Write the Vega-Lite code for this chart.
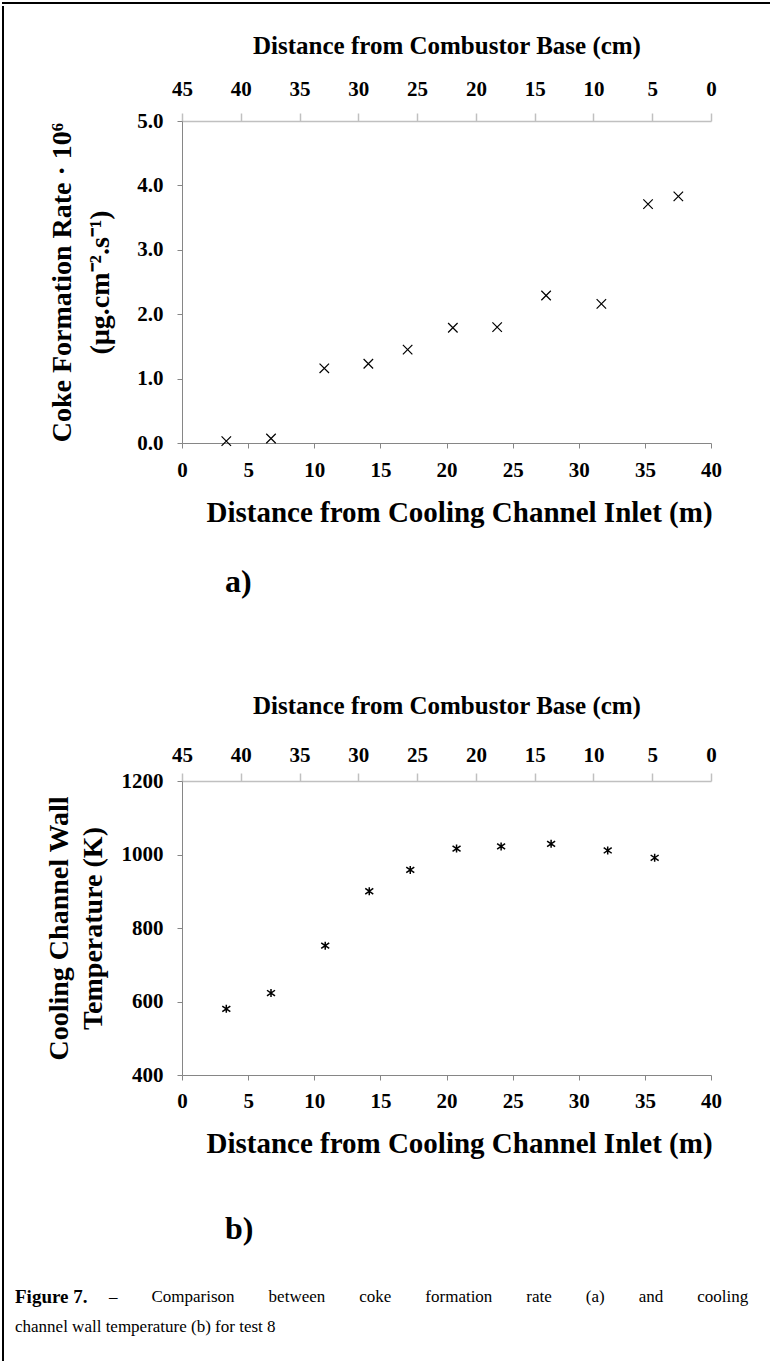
{
  "$schema": "https://vega.github.io/schema/vega-lite/v6.json",
  "background": "white",
  "padding": {"left": 2, "top": 2, "right": 0, "bottom": 0},
  "config": {
    "font": "Liberation Serif",
    "view": {"stroke": null},
    "axis": {"labelFont": "Liberation Serif", "titleFont": "Liberation Serif", "labelFontWeight": "bold", "titleFontWeight": "bold", "labelColor": "black", "titleColor": "black", "grid": false, "labelFlush": false, "labelOverlap": false},
    "title": {"font": "Liberation Serif", "color": "black", "fontWeight": "bold"},
    "text": {"font": "Liberation Serif", "color": "black"}
  },
  "datasets": {
    "coke": [
      {"m": 3.35, "rate": 0.03}, {"m": 6.73, "rate": 0.07}, {"m": 10.76, "rate": 1.16}, {"m": 14.09, "rate": 1.23},
      {"m": 17.06, "rate": 1.45}, {"m": 20.48, "rate": 1.79}, {"m": 23.83, "rate": 1.80}, {"m": 27.53, "rate": 2.29},
      {"m": 31.71, "rate": 2.16}, {"m": 35.24, "rate": 3.71}, {"m": 37.53, "rate": 3.83}
    ],
    "temp": [
      {"m": 3.35, "T": 580}, {"m": 6.73, "T": 623}, {"m": 10.83, "T": 752}, {"m": 14.16, "T": 900},
      {"m": 17.26, "T": 958}, {"m": 20.76, "T": 1016}, {"m": 24.13, "T": 1022}, {"m": 27.91, "T": 1029},
      {"m": 32.19, "T": 1011}, {"m": 35.74, "T": 991}
    ],
    "cmaxis": [{"cm": 45}, {"cm": 0}],
    "caption": [
      {"line": 1, "part": "head", "text": "Figure 7."},
      {"line": 1, "part": "body", "text": "–\u00a0\u00a0\u00a0\u00a0\u00a0\u00a0\u00a0\u00a0Comparison\u00a0\u00a0\u00a0\u00a0\u00a0\u00a0\u00a0\u00a0between\u00a0\u00a0\u00a0\u00a0\u00a0\u00a0\u00a0\u00a0coke\u00a0\u00a0\u00a0\u00a0\u00a0\u00a0\u00a0\u00a0formation\u00a0\u00a0\u00a0\u00a0\u00a0\u00a0\u00a0\u00a0rate\u00a0\u00a0\u00a0\u00a0\u00a0\u00a0\u00a0\u00a0(a)\u00a0\u00a0\u00a0\u00a0\u00a0\u00a0\u00a0\u00a0and\u00a0\u00a0\u00a0\u00a0\u00a0\u00a0\u00a0\u00a0cooling"},
      {"line": 2, "part": "body", "text": "channel wall temperature (b) for test 8"}
    ],
    "empty": []
  },
  "spacing": 0,
  "vconcat": [
    {
      "width": 767, "height": 1,
      "view": {"stroke": "black", "strokeWidth": 2, "strokeDash": [767, 768, 1, 1]},
      "data": {"name": "empty"},
      "mark": "point",
      "encoding": {}
    },
    {
      "spacing": 10,
      "hconcat": [
        {
          "width": 1, "height": 1356,
          "view": {"stroke": "black", "strokeWidth": 2, "strokeDash": [0, 1358, 1356, 1]},
          "data": {"name": "empty"},
          "mark": "point",
          "encoding": {}
        },
        {
          "spacing": 0,
          "vconcat": [
            {
              "width": 1, "height": 27,
              "data": {"name": "empty"},
              "mark": "point",
              "encoding": {}
            },
            {
              "spacing": 43,
              "vconcat": [
                {
                  "spacing": 95,
                  "vconcat": [
                    {
                      "width": 529, "height": 322,
                      "title": {"text": "a)", "orient": "bottom", "anchor": "start", "frame": "group", "dx": 43, "offset": 40, "fontSize": 32},
                      "layer": [
                        {
                          "data": {"name": "coke"},
                          "mark": {"type": "point", "shape": "M-1,-1L1,1M-1,1L1,-1", "size": 90, "filled": false, "color": "black", "strokeWidth": 1.2, "opacity": 1},
                          "encoding": {
                            "x": {"field": "m", "type": "quantitative", "scale": {"domain": [0, 40], "nice": false, "zero": false},
                              "axis": {"orient": "bottom", "values": [0, 5, 10, 15, 20, 25, 30, 35, 40], "title": "Distance from Cooling Channel Inlet (m)", "titleX": 277, "titleFontSize": 29, "labelFontSize": 21, "tickSize": 5, "labelPadding": 11, "titlePadding": 18, "domainColor": "#868686", "tickColor": "#868686"}},
                            "y": {"field": "rate", "type": "quantitative", "scale": {"domain": [0, 5], "nice": false},
                              "axis": {"values": [0, 1, 2, 3, 4, 5], "format": ".1f", "title": ["Coke Formation Rate · 10⁶", "(µg.cm⁻².s⁻¹)"], "titleFontSize": 28, "titleLineHeight": 38, "titlePadding": 22, "labelFontSize": 21, "labelPadding": 14, "tickSize": 5, "domainColor": "#868686", "tickColor": "#868686"}}
                          }
                        },
                        {
                          "data": {"name": "cmaxis"},
                          "mark": {"type": "point", "opacity": 0},
                          "encoding": {
                            "x": {"field": "cm", "type": "quantitative", "scale": {"domain": [0, 45], "reverse": true, "nice": false},
                              "axis": {"orient": "top", "values": [45, 40, 35, 30, 25, 20, 15, 10, 5, 0], "title": "Distance from Combustor Base (cm)", "titleFontSize": 25, "labelFontSize": 21, "tickSize": 8, "labelPadding": 14, "titlePadding": 20, "domainColor": "#c0c0c0", "tickColor": "#c0c0c0", "domainWidth": 1.5, "tickWidth": 1.5}}
                          }
                        }
                      ],
                      "resolve": {"scale": {"x": "independent"}, "axis": {"x": "independent"}}
                    },
                    {
                      "width": 529, "height": 294,
                      "title": {"text": "b)", "orient": "bottom", "anchor": "start", "frame": "group", "dx": 43, "offset": 56, "fontSize": 32},
                      "layer": [
                        {
                          "data": {"name": "temp"},
                          "mark": {"type": "point", "shape": "M-1,-0.7L1,0.7M-1,0.7L1,-0.7M0,-1L0,1", "size": 64, "filled": false, "color": "black", "strokeWidth": 1.5, "opacity": 1},
                          "encoding": {
                            "x": {"field": "m", "type": "quantitative", "scale": {"domain": [0, 40], "nice": false, "zero": false},
                              "axis": {"orient": "bottom", "values": [0, 5, 10, 15, 20, 25, 30, 35, 40], "title": "Distance from Cooling Channel Inlet (m)", "titleX": 277, "titleFontSize": 29, "labelFontSize": 21, "tickSize": 5, "labelPadding": 10, "titlePadding": 18, "domainColor": "#868686", "tickColor": "#868686"}},
                            "y": {"field": "T", "type": "quantitative", "scale": {"domain": [400, 1200], "nice": false, "zero": false},
                              "axis": {"values": [400, 600, 800, 1000, 1200], "format": "d", "title": ["Cooling Channel Wall", "Temperature (K)"], "titleFontSize": 28, "titleLineHeight": 34, "titlePadding": 14, "labelFontSize": 21, "labelPadding": 14, "tickSize": 5, "domainColor": "#868686", "tickColor": "#868686"}}
                          }
                        },
                        {
                          "data": {"name": "cmaxis"},
                          "mark": {"type": "point", "opacity": 0},
                          "encoding": {
                            "x": {"field": "cm", "type": "quantitative", "scale": {"domain": [0, 45], "reverse": true, "nice": false},
                              "axis": {"orient": "top", "values": [45, 40, 35, 30, 25, 20, 15, 10, 5, 0], "title": "Distance from Combustor Base (cm)", "titleFontSize": 25, "labelFontSize": 21, "tickSize": 8, "labelPadding": 8, "titlePadding": 26, "domainColor": "#c0c0c0", "tickColor": "#c0c0c0", "domainWidth": 1.5, "tickWidth": 1.5}}
                          }
                        }
                      ],
                      "resolve": {"scale": {"x": "independent"}, "axis": {"x": "independent"}}
                    }
                  ]
                },
                {
                  "width": 529, "height": 30,
                  "data": {"name": "caption"},
                  "layer": [
                    {
                      "transform": [{"filter": "datum.part === 'head'"}],
                      "mark": {"type": "text", "align": "left", "baseline": "middle", "fontSize": 19, "fontWeight": "bold", "dx": -167},
                      "encoding": {
                        "x": {"datum": 0, "type": "quantitative", "scale": {"domain": [0, 1]}, "axis": null},
                        "y": {"field": "line", "type": "ordinal", "scale": {"type": "point", "padding": 0}, "axis": null},
                        "text": {"field": "text"}
                      }
                    },
                    {
                      "transform": [{"filter": "datum.part === 'body' && datum.line === 1"}],
                      "mark": {"type": "text", "align": "left", "baseline": "middle", "fontSize": 17, "dx": -73},
                      "encoding": {
                        "x": {"datum": 0, "type": "quantitative", "scale": {"domain": [0, 1]}, "axis": null},
                        "y": {"field": "line", "type": "ordinal", "scale": {"type": "point", "padding": 0}, "axis": null},
                        "text": {"field": "text"}
                      }
                    },
                    {
                      "transform": [{"filter": "datum.line === 2"}],
                      "mark": {"type": "text", "align": "left", "baseline": "middle", "fontSize": 17, "dx": -167},
                      "encoding": {
                        "x": {"datum": 0, "type": "quantitative", "scale": {"domain": [0, 1]}, "axis": null},
                        "y": {"field": "line", "type": "ordinal", "scale": {"type": "point", "padding": 0}, "axis": null},
                        "text": {"field": "text"}
                      }
                    }
                  ]
                }
              ]
            }
          ]
        }
      ]
    }
  ]
}
